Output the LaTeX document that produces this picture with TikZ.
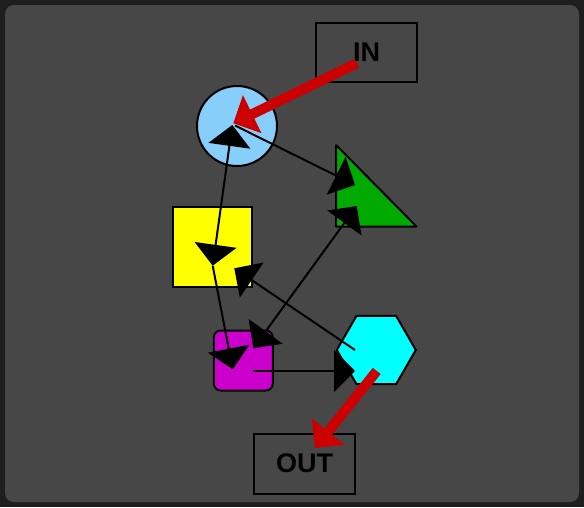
\documentclass[tikz,border=0pt]{standalone}
\usepackage{fontspec}
\setmainfont{Liberation Sans}
\usetikzlibrary{arrows.meta,shapes.geometric}
\definecolor{bgout}{HTML}{1E1E1E}
\definecolor{bgin}{HTML}{474747}
\definecolor{cblue}{RGB}{135,206,250}
\definecolor{cgreen}{RGB}{0,170,0}
\definecolor{cmag}{RGB}{204,0,204}
\definecolor{ccyan}{RGB}{0,255,255}
\definecolor{cyel}{RGB}{255,255,0}
\definecolor{cred}{RGB}{204,0,0}
\begin{document}
\begin{tikzpicture}[x=1pt,y=-1pt,
  shapebox/.style={draw=black, line width=2pt, inner sep=0pt},
  labelbox/.style={draw=black, line width=2pt, inner sep=0pt, font=\bfseries\fontsize{27}{27}\selectfont, text=black},
  edge/.style={draw=black, line width=2pt},
  redarrow/.style={draw=cred, line width=10pt, -{Triangle[length=21pt,width=41pt]}}]
% background
\fill[bgout] (0,0) rectangle (584,507);
\fill[bgin, rounded corners=9pt] (5,5) rectangle (579,502);
\useasboundingbox (0,0) rectangle (584,507);
% nodes
\node[labelbox, minimum width=101pt, minimum height=59pt] (in) at (366.7,52.3) {IN};
\node[shapebox, circle, fill=cblue, minimum size=80pt] (circ) at (237,126) {};
\node[inner sep=0pt, minimum width=80pt, minimum height=81pt] (tri) at (376.3,185.8) {};
\draw[fill=cgreen, line width=2pt, line join=round] (tri.north west) -- (tri.south west) -- (tri.south east) -- cycle;
\node[shapebox, rectangle, fill=cyel, minimum width=79pt, minimum height=80pt] (yel) at (212.5,247.2) {};
\node[shapebox, rectangle, rounded corners=7pt, fill=cmag, minimum width=59pt, minimum height=60pt] (mag) at (243.3,360.5) {};
\node[shapebox, regular polygon, regular polygon sides=6, fill=ccyan, minimum size=79pt] (hex) at (376.3,350) {};
\node[labelbox, minimum width=101pt, minimum height=60pt] (out) at (304.7,463.5) {OUT};
% edge end points
\coordinate (circA) at (232.3,125);
\coordinate (circB) at (235,125.5);
\coordinate (yelD) at (212.7,265.7);
\coordinate (yelE) at (234.3,268.3);
\coordinate (triB) at (355,185);
\coordinate (triC) at (356.7,206);
\coordinate (magF) at (253.3,348.3);
\coordinate (magG) at (232.7,369.3);
\coordinate (magH) at (253.3,371);
\coordinate (hexE) at (355,350);
\coordinate (hexH) at (355,371);
\coordinate (hexR) at (376.7,371);
\coordinate (inR) at (356.7,63.3);
\coordinate (circR) at (233.3,123.3);
\coordinate (outR) at (315,448);
% black edges
\draw[edge, {Triangle[length=21pt,width=42pt]}-{Triangle[length=21pt,width=42pt]}] (circA) -- (yelD);
\draw[edge, -{Triangle[length=21pt,width=42pt]}] (circB) -- (triB);
\draw[edge, -{Triangle[length=21pt,width=42pt]}] (yelD) -- (magG);
\draw[edge, {Triangle[length=21pt,width=42pt]}-{Triangle[length=21pt,width=42pt]}] (magF) -- (triC);
\draw[edge, -{Triangle[length=21pt,width=42pt]}] (hexE) -- (yelE);
\draw[edge, -{Triangle[length=21pt,width=42pt]}] (magH) -- (hexH);
% red arrows
\draw[redarrow] (inR) -- (circR);
\draw[redarrow] (hexR) -- (outR);
\end{tikzpicture}
\end{document}
